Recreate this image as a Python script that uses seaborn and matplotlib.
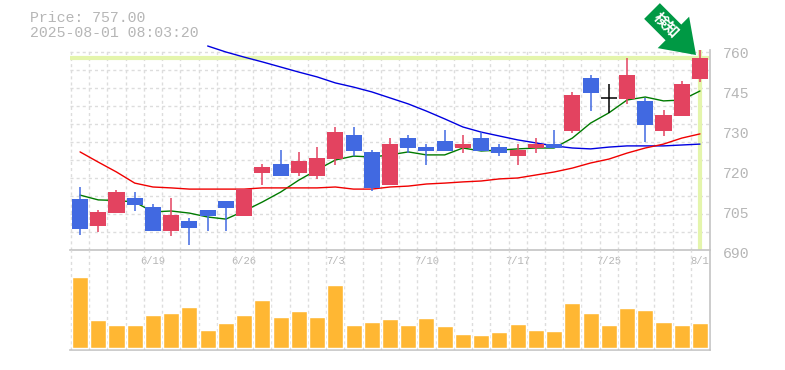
import matplotlib
matplotlib.use("Agg")
import numpy as np
import pandas as pd
import matplotlib.pyplot as plt
from matplotlib.transforms import ScaledTranslation
import seaborn as sns

# 35 sessions, prices
opens = [710, 701, 705.3, 710.3, 707.3, 699.3, 702.7, 706.3, 709.3, 704.3, 718.7, 721.7,
         718.7, 717.7, 723.3, 731.3, 725.7, 714.7, 730.3, 727.3, 729.3, 727, 730.3, 727.3,
         724.3, 727, 728.3, 732.7, 750.3, 743.7, 743.3, 742.7, 732.7, 737.7, 750]
highs = [714, 706.3, 713, 712.3, 708.3, 710.3, 703.7, 706.3, 709.3, 713.3, 721.7, 726.3,
         725.7, 727.3, 734, 734, 726.3, 730.3, 731.3, 728.3, 733, 731.3, 732.3, 728.3,
         728.3, 730.3, 733, 745.7, 751.3, 748.3, 757, 743.7, 739.7, 749.3, 759.7]
lows = [698, 699, 705.3, 706, 699.3, 697.7, 694.7, 699.3, 699.3, 704.3, 714.7, 717.7,
        717.7, 716.7, 721.3, 724.3, 712.7, 714.7, 725.3, 721.3, 726, 725.3, 726, 724.3,
        721.3, 725.3, 727, 732, 739.3, 738.7, 741.7, 729, 731, 737.7, 749]
closes = [700, 705.7, 712.3, 708, 699.3, 704.7, 700.3, 704.3, 707, 713.3, 720.7, 717.7,
          722.7, 723.7, 732.3, 726, 713.7, 728.3, 727, 726, 726, 728.3, 726, 725.3,
          726.3, 728.3, 727, 744.7, 745.3, 743.7, 751.3, 734.7, 738, 748.3, 757]
ma_short = [711.3, 709.7, 709.5, 709, 705.7, 706, 705.3, 704, 703.3, 706, 709, 712.3,
            716.3, 719.7, 723, 724.3, 724, 724.7, 725.7, 724.7, 724.7, 727, 726, 726.3,
            726.7, 727, 727, 730.3, 735.3, 738.7, 743, 744, 742.7, 743, 746]
ma_mid_start = 7
ma_mid = [761, 759, 757.3, 755.7, 754, 752.3, 750.7, 748.7, 747.3, 745.7, 743.7, 741.7,
          739.3, 736.7, 734, 732.3, 731, 729.7, 728.7, 727.7, 727, 726.7, 727.3, 727.7,
          727.7, 727.7, 728, 728.3]
ma_long = [725.7, 722.3, 719, 715.3, 714, 713.7, 713.3, 713.3, 713.3, 713.3, 713.7, 713.7,
           713.7, 713.7, 714, 713.3, 713.3, 714, 714.3, 715, 715.3, 715.7, 716, 716.7,
           717, 718, 719, 720.3, 722, 723.3, 725.3, 727, 728.3, 730.3, 731.7]
volumes = [71, 28, 23, 23, 33, 35, 41, 18, 25, 33, 48, 31, 37, 31, 63, 23, 26, 29,
           23, 30, 22, 14, 13, 16, 24, 18, 17, 45, 35, 23, 40, 38, 26, 23, 25]
date_pos = [4, 9, 14, 19, 24, 29, 34]
date_labels = ["6/19", "6/26", "7/3", "7/10", "7/17", "7/25", "8/1"]
price_labels = ["760", "745", "730", "720", "705", "690"]
last_price = 757

df = pd.DataFrame({"idx": np.arange(35), "open": opens, "high": highs, "low": lows,
                   "close": closes, "short": ma_short, "long": ma_long, "volume": volumes})
df_mid = pd.DataFrame({"idx": np.arange(ma_mid_start, 35), "mid": ma_mid})

RED = "#e34360"
BLUE = "#4169e1"
GRID = "#dddddd"
EDGE = "#c4c4c4"
TEXT = "#b6b6b6"
W, H = 785, 370

sns.set_theme(style="white")
plt.rcParams["font.family"] = ["Liberation Mono", "Noto Sans CJK JP", "DejaVu Sans"]

fig = plt.figure(figsize=(W / 100, H / 100), dpi=100)
ax = fig.add_axes([70 / W, 1 - 250 / H, 640 / W, 200 / H])
ax2 = fig.add_axes([70 / W, 1 - 349.5 / H, 640 / W, 99.5 / H])
ax2.patch.set_alpha(0)

xmin, xmax = -0.55, 34.55
y_top = last_price + 8 / 3
y_bot = y_top - 200 / 3

for a in (ax, ax2):
    a.set_xlim(xmin, xmax)
    a.set_axisbelow(True)
    a.set_xticks(np.arange(35) - 0.5, minor=True)
    a.grid(which="minor", axis="x", color=GRID, lw=1, ls=(0, (2.2, 2.2)))
    a.tick_params(which="both", length=0)
    for s in a.spines.values():
        s.set_color(EDGE)
        s.set_linewidth(1.2)
    a.spines["top"].set_visible(False)
    a.spines["left"].set_visible(False)

# price panel
ax.set_ylim(y_bot, y_top)
grid_y = y_bot + np.arange(1, 12) * 18 / 3
ax.set_yticks(grid_y, minor=True)
ax.grid(which="minor", axis="y", color=GRID, lw=1, ls=(0, (2.2, 2.2)))
ax.set_yticks(y_bot + np.arange(6) * 40 / 3)
ax.set_yticklabels(price_labels[::-1], color=TEXT, fontsize=10.6)
ax.yaxis.tick_right()
ax.tick_params(axis="y", which="major", pad=9)
for lab in ax.get_yticklabels():
    lab.set_transform(lab.get_transform() + ScaledTranslation(0, -1.7 / 72, fig.dpi_scale_trans))
ax.set_xticks(date_pos)
ax.set_xticklabels(date_labels, color=TEXT, fontsize=7.6)
ax.tick_params(axis="x", which="major", pad=4.5)
ax.grid(which="major", visible=False)

ax.axhline(last_price, color="#e4f5ac", lw=3, zorder=1)
ax.axvline(34, color="#e4f5ac", lw=3, zorder=1)

sns.lineplot(data=df_mid, x="idx", y="mid", color="#0000e0", lw=1, ax=ax, zorder=2,
             estimator=None, legend=False, clip_on=False)
sns.lineplot(data=df, x="idx", y="short", color="#007a00", lw=1, ax=ax, zorder=2,
             estimator=None, legend=False)
sns.lineplot(data=df, x="idx", y="long", color="#f00000", lw=1, ax=ax, zorder=2,
             estimator=None, legend=False)

for _, r in df.iterrows():
    if r["close"] == r["open"]:
        col = "black"
        ax.hlines(r["close"], r["idx"] - 0.44, r["idx"] + 0.44, color=col, lw=1.1, zorder=3)
    else:
        col = RED if r["close"] > r["open"] else BLUE
        ax.bar(r["idx"], abs(r["close"] - r["open"]), bottom=min(r["open"], r["close"]),
               width=0.88, color=col, lw=0, zorder=4)
    ax.vlines(r["idx"], r["low"], r["high"], color=col, lw=1.1, zorder=3, clip_on=False)
ax.set_xlabel("")
ax.set_ylabel("")

# volume panel
sns.barplot(data=df, x="idx", y="volume", color="#ffb733", saturation=1, width=0.88,
            native_scale=True, ax=ax2, zorder=3)
ax2.set_xlim(xmin, xmax)
ax2.set_ylim(-1.5, 98)
ax2.set_xticks([])
ax2.set_yticks([])
ax2.set_xlabel("")
ax2.set_ylabel("")

fig.text(30 / W, 1 - 22.5 / H, "Price: 757.00", color=TEXT, fontsize=10.7)
fig.text(30 / W, 1 - 37 / H, "2025-08-01 08:03:20", color=TEXT, fontsize=10.7)

# detection arrow
ax.annotate("", xy=(696, H - 55), xytext=(652, H - 11), xycoords="figure pixels",
            textcoords="figure pixels", annotation_clip=False,
            arrowprops=dict(width=16, headwidth=32, headlength=23, shrink=0,
                            color="#009944", lw=0))
fig.text(665.5 / W, 1 - 26 / H, "検知", color="white", fontsize=10.5, fontweight="bold",
         rotation=-45, ha="center", va="center", rotation_mode="anchor")

fig.savefig("out.png", dpi=100)
